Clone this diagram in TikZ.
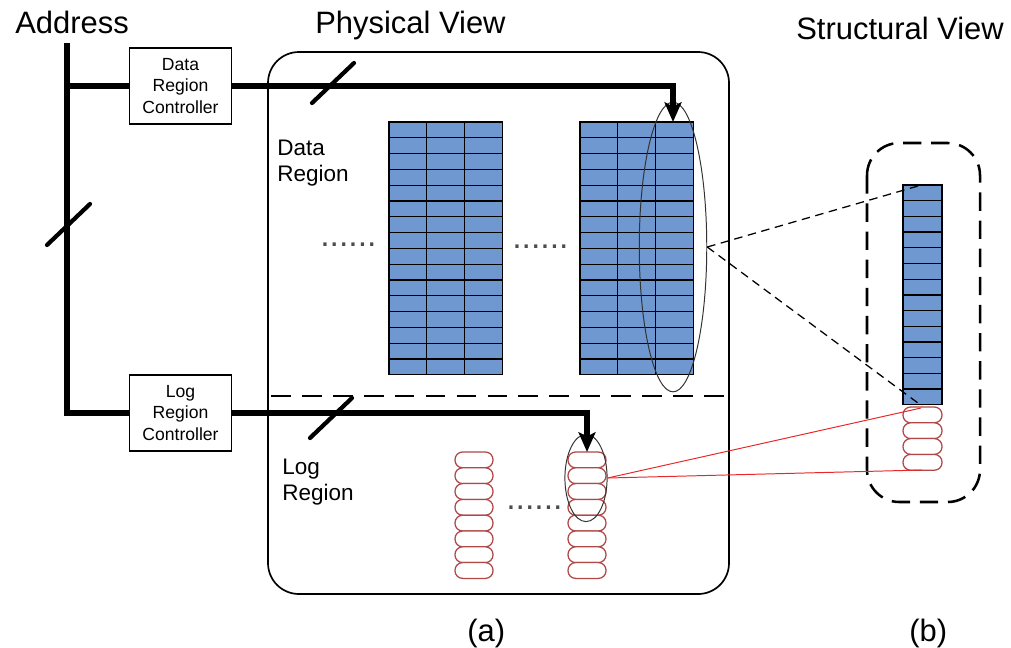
\documentclass[tikz,border=0pt]{standalone}
\usepackage{fontspec}
\setmainfont{Liberation Sans}
\usetikzlibrary{arrows.meta,shapes.geometric}

\definecolor{cellblue}{RGB}{111,151,208}
\definecolor{logred}{RGB}{176,72,72}
\definecolor{linkred}{RGB}{232,40,40}

\begin{document}
\begin{tikzpicture}[x=0.025cm,y=-0.025cm,
  bus/.style={line width=4.5pt},
  busarrow/.style={line width=4.5pt,-{Stealth[length=14pt,width=12pt,inset=3pt]}},
  slash/.style={line width=3pt,line cap=round},
  ctrl/.style={draw,line width=0.8pt,minimum width=73pt,minimum height=54pt,align=center,inner sep=1pt,font=\fontsize{12.5}{15.4}\selectfont},
  cell/.style={draw,fill=cellblue,line width=0.9pt},
  logcell/.style={draw=logred,fill=white,line width=0.9pt,rounded corners=5.4pt},
  sel/.style={draw=black!80,ellipse,line width=0.7pt,inner sep=0pt},
  heading/.style={anchor=base west,inner sep=0pt,font=\fontsize{22}{26}\selectfont},
  regionlabel/.style={anchor=base west,inner sep=0pt,align=left,font=\fontsize{16}{18}\selectfont},
  dotrow/.style={anchor=base west,inner sep=0pt,font=\fontsize{24}{24}\selectfont,text=black!70},
  zoomline/.style={line width=0.9pt,dash pattern=on 6pt off 4pt},
  redline/.style={draw=linkred,line width=0.7pt}]
\useasboundingbox (0,0) rectangle (1011,647);

\node[heading] (addr) at (15,33) {Address};
\node[heading] (phys) at (315,33) {Physical View};
\node[heading] (struct) at (796,39) {Structural View};
\node[heading] (capA) at (467,641) {(a)};
\node[heading] (capB) at (909,641) {(b)};

\draw[line width=1.2pt,rounded corners=22pt] (268,52) rectangle (729,594);
\draw[line width=1.5pt,dash pattern=on 14pt off 8pt] (271,396) -- (727,396);

% base of a two-line node sits on its last line
\node[regionlabel] (dataLbl) at (277,181) {Data\\Region};
\node[regionlabel] (logLbl) at (282,500) {Log\\Region};

\foreach \x in {389,580}
  \foreach \r in {0,...,15}
    \foreach \c in {0,1,2}
      \draw[cell] (\x+\c*37.8,122+\r*15.8) rectangle ++(37.8,15.8);

\node[dotrow] (dotsA) at (320,246) {......};
\node[dotrow] (dotsB) at (512,248) {......};
\node[dotrow] (dotsC) at (506,509) {......};

\foreach \x in {455,568}
  \foreach \r in {0,...,7}
    \draw[logcell] (\x,452+\r*15.8) rectangle ++(38,15.8);

\foreach \r in {0,...,13}
  \draw[cell] (903,185+\r*15.7) rectangle ++(39,15.7);
\foreach \r in {0,...,3}
  \draw[logcell] (903,407+\r*15.8) rectangle ++(39,15.8);
\draw[line width=1.8pt,dash pattern=on 13pt off 7pt,rounded corners=23pt] (867,143) rectangle (980,502);

\node[sel,minimum width=48pt,minimum height=206pt] (dataSel) at (673,247) {};
\node[sel,minimum width=30pt,minimum height=62pt] (logSel) at (586,478) {};

\coordinate (colTop) at (918,186);
\coordinate (colBot) at (922,406);
\coordinate (logTop) at (921,408);
\coordinate (logBot) at (922,470);
\draw[zoomline] (dataSel.east) -- (colTop);
\draw[zoomline] (dataSel.east) -- (colBot);
\draw[redline] (logSel.east) -- (logTop);
\draw[redline] (logSel.east) -- (logBot);

\node[ctrl] (dataCtrl) at (180.5,86) {Data\\Region\\Controller};
\node[ctrl] (logCtrl) at (180.5,413) {Log\\Region\\Controller};

\coordinate (busTop) at (67,43);
\coordinate (dataTgt) at (673,122);
\coordinate (logTgt) at (587,452);
\draw[bus] (busTop) |- (logCtrl.west);
\draw[bus] (dataCtrl.west) -- (dataCtrl.west -| busTop);
\draw[busarrow] (dataCtrl.east) -| (dataTgt);
\draw[busarrow] (logCtrl.east) -| (logTgt);

\draw[slash] (47,245) -- (90,204);
\draw[slash] (312,103) -- (354,63);
\draw[slash] (310,438) -- (352,398);
\end{tikzpicture}
\end{document}
